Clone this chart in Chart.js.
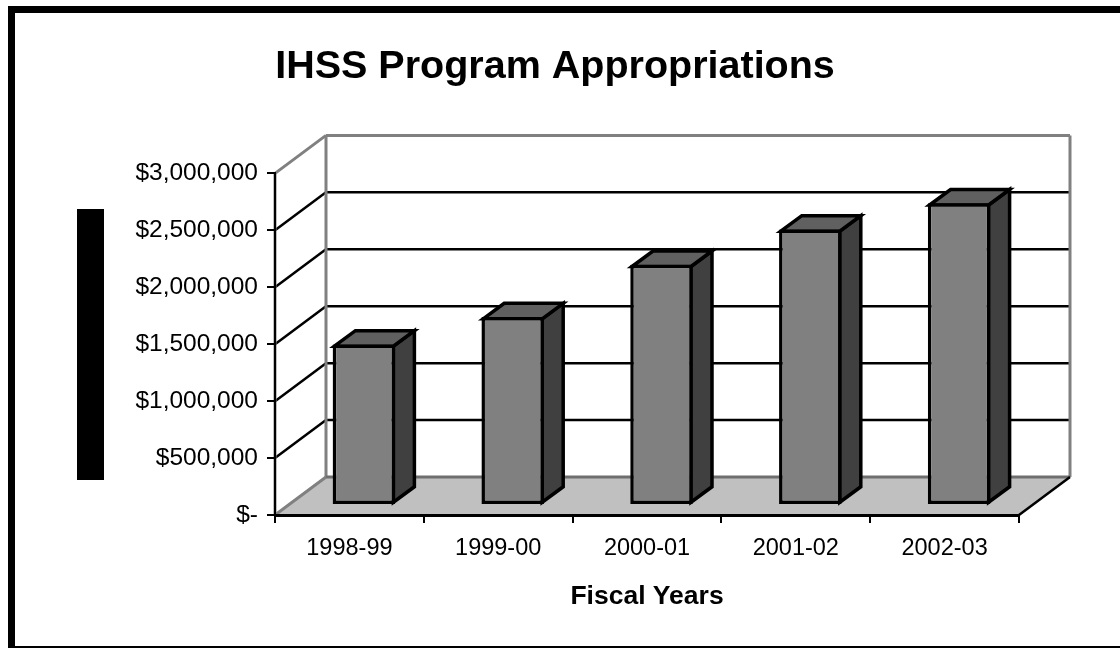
<!DOCTYPE html>
<html>
<head>
<meta charset="utf-8">
<title>IHSS Program Appropriations</title>
<script src="https://cdn.jsdelivr.net/npm/chart.js@4"></script>
<style>
  html, body { margin: 0; padding: 0; background: #fff; overflow: hidden; }
  #wrap { position: relative; width: 1120px; height: 648px; }
  #frame { position: absolute; left: 8px; top: 6px; width: 1200px; height: 800px; border: 7px solid #000; }
  #frame { border-bottom-width: 0; }
  #bottomline { position: absolute; left: 8px; top: 646px; width: 1112px; height: 2px; background: #000; }
  #blackbox { position: absolute; left: 77px; top: 209px; width: 27px; height: 271px; background: #000; }
  canvas { position: absolute; left: 0; top: 0; }
</style>
</head>
<body>
<div id="wrap">
  <div id="frame"></div>
  <div id="bottomline"></div>
  <div id="blackbox"></div>
  <canvas id="myChart" width="1120" height="648"></canvas>
</div>
<script>
const years = ["1998-99", "1999-00", "2000-01", "2001-02", "2002-03"];
const appropriations = [1410000, 1650000, 2110000, 2420000, 2650000];
const yTicks = ["$-", "$500,000", "$1,000,000", "$1,500,000", "$2,000,000", "$2,500,000", "$3,000,000"];

// how far the back wall sits behind the axes
const wallX = 51, wallY = 38;
// bars stand inside the floor, with this much depth
const barShiftX = 14.5, barShiftY = 10;
const depthX = 21, depthY = 15.5;
const barLine = 3.5;

function line(ctx, x1, y1, x2, y2, color, width) {
    ctx.strokeStyle = color;
    ctx.lineWidth = width;
    ctx.beginPath();
    ctx.moveTo(x1, y1);
    ctx.lineTo(x2, y2);
    ctx.stroke();
}

const walls = {
    id: "walls",
    beforeDraw(chart) {
        const ctx = chart.ctx;
        const a = chart.chartArea;
        const yScale = chart.scales.y;
        ctx.save();
        // floor
        ctx.fillStyle = "#c0c0c0";
        ctx.beginPath();
        ctx.moveTo(a.left, a.bottom);
        ctx.lineTo(a.left + wallX, a.bottom - wallY);
        ctx.lineTo(a.right + wallX, a.bottom - wallY);
        ctx.lineTo(a.right, a.bottom);
        ctx.closePath();
        ctx.fill();
        // grid lines on the back wall and the left side
        yScale.ticks.forEach(t => {
            const y = yScale.getPixelForValue(t.value);
            if (t.value > 0 && t.value < 3000000) {
                line(ctx, a.left, y, a.left + wallX, y - wallY, "#000", 2.5);
                line(ctx, a.left + wallX, y - wallY, a.right + wallX, y - wallY, "#000", 2.5);
            }
        });
        // wall outline
        const grey = "#808080";
        line(ctx, a.left + wallX, a.top - wallY, a.right + wallX, a.top - wallY, grey, 3);
        line(ctx, a.left + wallX, a.top - wallY, a.left + wallX, a.bottom - wallY, grey, 3);
        line(ctx, a.right + wallX, a.top - wallY, a.right + wallX, a.bottom - wallY, grey, 3);
        line(ctx, a.left + wallX, a.bottom - wallY, a.right + wallX, a.bottom - wallY, "#6e6e6e", 3);
        line(ctx, a.left, a.top, a.left + wallX, a.top - wallY, grey, 3);
        line(ctx, a.left, a.bottom, a.left + wallX, a.bottom - wallY, grey, 3);
        line(ctx, a.left, a.top, a.left, a.bottom, grey, 3);
        line(ctx, a.right, a.bottom, a.right + wallX, a.bottom - wallY, "#000", 2.5);
        ctx.restore();
    }
};

function face(ctx, points, fill) {
    ctx.fillStyle = fill;
    ctx.strokeStyle = "#000";
    ctx.lineWidth = barLine;
    ctx.lineJoin = "miter";
    ctx.beginPath();
    points.forEach((p, i) => i ? ctx.lineTo(p[0], p[1]) : ctx.moveTo(p[0], p[1]));
    ctx.closePath();
    ctx.fill();
    ctx.stroke();
}

const bars3d = {
    id: "bars3d",
    beforeDatasetDraw(chart, args) {
        const ctx = chart.ctx;
        ctx.save();
        ctx.translate(barShiftX, -barShiftY);
        const inset = barLine / 2;
        args.meta.data.forEach(bar => {
            const r = bar.x + bar.width / 2 - inset;
            const l = bar.x - bar.width / 2 + inset;
            const top = bar.y + inset;
            const bot = bar.base - inset;
            face(ctx, [[r, top], [r + depthX, top - depthY], [r + depthX, bot - depthY], [r, bot]], "#404040");
            face(ctx, [[l, top], [l + depthX, top - depthY], [r + depthX, top - depthY], [r, top]], "#606060");
        });
    },
    afterDatasetDraw(chart) {
        chart.ctx.restore();
    }
};

new Chart("myChart", {
    type: "bar",
    data: {
        labels: years,
        datasets: [{
            data: appropriations,
            backgroundColor: "#808080",
            borderColor: "#000",
            borderWidth: barLine,
            borderSkipped: false,
            categoryPercentage: 1,
            barPercentage: 0.42,
            clip: false
        }]
    },
    plugins: [walls, bars3d],
    options: {
        responsive: false,
        animation: false,
        layout: { padding: { left: 91, right: 101, top: 43, bottom: 35 } },
        plugins: {
            legend: { display: false },
            tooltip: { enabled: false },
            title: {
                display: true,
                text: "IHSS Program Appropriations",
                color: "#000",
                font: { family: "Liberation Sans", size: 39.5, weight: "bold" },
                padding: { top: 0, bottom: 83 }
            }
        },
        scales: {
            x: {
                grid: { drawOnChartArea: false, color: "#000", lineWidth: 2, tickLength: 8 },
                border: { color: "#000", width: 3 },
                ticks: { color: "#000", padding: 11, font: { family: "Liberation Sans", size: 23.5 }, maxRotation: 0 },
                title: {
                    display: true,
                    text: "Fiscal Years",
                    color: "#000",
                    font: { family: "Liberation Sans", size: 26.5, weight: "bold" },
                    padding: { top: 17, bottom: 0 }
                },
                afterFit(scale) { scale.height = 98; }
            },
            y: {
                min: 0,
                max: 3000000,
                grid: { drawOnChartArea: false, color: "#000", lineWidth: 2, tickLength: 8 },
                border: { color: "#000", width: 2 },
                ticks: {
                    stepSize: 500000,
                    color: "#000",
                    padding: 9,
                    font: { family: "Liberation Sans", size: 24.5 },
                    callback: (v, i) => yTicks[i]
                },
                afterFit(scale) { scale.width = 184; }
            }
        }
    }
});
</script>
</body>
</html>
